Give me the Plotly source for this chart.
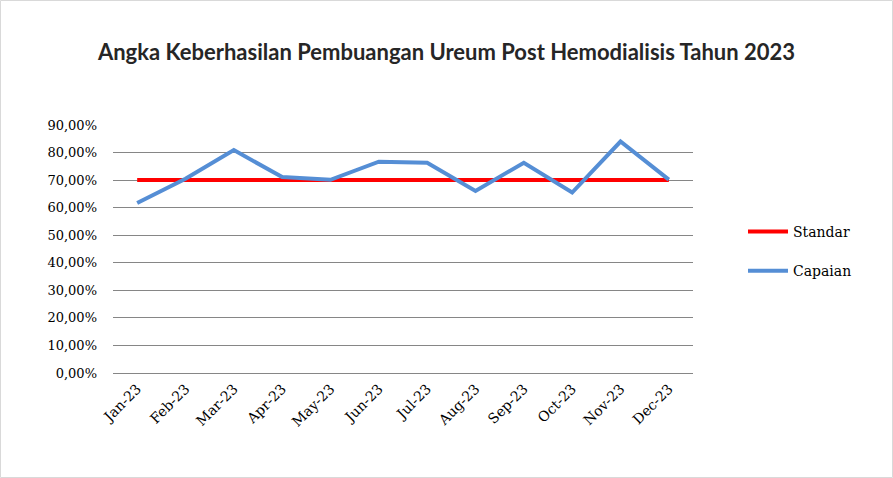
import plotly.graph_objects as go

months = ["Jan-23", "Feb-23", "Mar-23", "Apr-23", "May-23", "Jun-23",
          "Jul-23", "Aug-23", "Sep-23", "Oct-23", "Nov-23", "Dec-23"]
standar = [0.70] * 12
capaian = [0.617, 0.705, 0.809, 0.711, 0.701, 0.767,
           0.763, 0.661, 0.763, 0.655, 0.840, 0.702]
y_ticks = [0.0, 0.1, 0.2, 0.3, 0.4, 0.5, 0.6, 0.7, 0.8, 0.9]

W, H = 893, 478
ML, MR, MT, MB = 113, 200, 125, 105
pw, ph = W - ML - MR, H - MT - MB
SERIF = "DejaVu Serif"

fig = go.Figure()
fig.add_trace(go.Scatter(x=months, y=standar, mode="lines", name="Standar",
                         legendgroup="a",
                         line=dict(color="#FF0000", width=4)))
fig.add_trace(go.Scatter(x=months, y=capaian, mode="lines", name="Capaian",
                         legendgroup="b",
                         line=dict(color="#558ED5", width=4)))

fig.update_layout(
    width=W, height=H,
    margin=dict(l=ML, r=MR, t=MT, b=MB),
    paper_bgcolor="white", plot_bgcolor="white",
    separators=",.",
    font=dict(family=SERIF),
    title=dict(text="<b>Angka Keberhasilan Pembuangan Ureum Post Hemodialisis Tahun 2023</b>",
               x=0.5, xanchor="center", y=1 - 52 / H, yanchor="middle",
               font=dict(family="Lato", size=22, color="#262626")),
    showlegend=True,
    legend=dict(x=(743 - ML) / pw, xanchor="left", y=1 - (216 - MT) / ph, yanchor="top",
                font=dict(family=SERIF, size=14, color="#000000"),
                traceorder="grouped", tracegroupgap=18,
                itemwidth=40, bgcolor="rgba(0,0,0,0)"),
    xaxis=dict(type="category", range=[-0.5, 11.5], showgrid=False, showline=False,
               tickangle=-45, ticks="", ticklabelstandoff=4,
               tickfont=dict(family=SERIF, size=14, color="#000000")),
    yaxis=dict(range=[0, 0.9], tickvals=y_ticks, tickformat=".2%",
               showgrid=True, gridcolor="#868686", gridwidth=1,
               zeroline=True, zerolinecolor="#868686", zerolinewidth=1,
               showline=False, ticks="", ticklabelstandoff=15,
               tickfont=dict(family=SERIF, size=13, color="#000000")),
)

fig.add_shape(type="rect", xref="paper", yref="paper",
              x0=(0.5 - ML) / pw, x1=(W - 0.5 - ML) / pw,
              y0=-(MB - 0.5) / ph, y1=1 + (MT - 0.5) / ph,
              line=dict(color="#D9D9D9", width=1), layer="below")

fig.write_html("out.html")
